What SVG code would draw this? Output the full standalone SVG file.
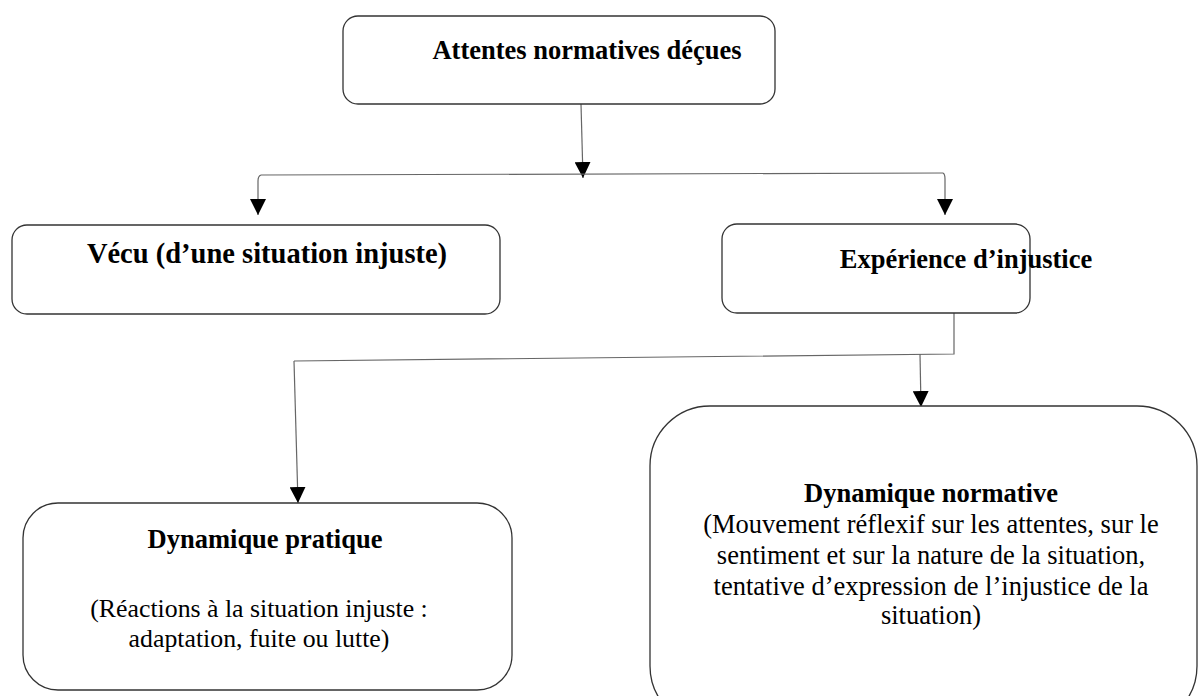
<svg xmlns="http://www.w3.org/2000/svg" width="1201" height="696" viewBox="0 0 1201 696">
<style>
.box{fill:#fff;stroke:#333;stroke-width:1.3}
.b{font-family:"Liberation Serif","Times New Roman",serif;font-weight:bold;font-size:26.5px;fill:#000}
.r{font-family:"Liberation Serif","Times New Roman",serif;font-size:26.5px;fill:#000}
.c{fill:none;stroke:#666;stroke-width:1.2}
</style>
<defs>
<marker id="ah" markerUnits="userSpaceOnUse" markerWidth="16" markerHeight="16" refX="16" refY="8" orient="auto">
<path d="M0,0 L16,8 L0,16 z" fill="#000"/>
</marker>
</defs>
<rect width="1201" height="696" fill="#fff"/>
<g id="connectors">
<path class="c" d="M581,104 L583,178" marker-end="url(#ah)"/>
<path class="c" d="M261,175 L943,173"/>
<path class="c" d="M261,175 Q258,176 258,181 L258,215" marker-end="url(#ah)"/>
<path class="c" d="M943,173 Q945,174 945,179 L945,215" marker-end="url(#ah)"/>
<path class="c" d="M954,313 L954,354 L294,361"/>
<path class="c" d="M294,361 L298,503" marker-end="url(#ah)"/>
<path class="c" d="M920,354 L921,407" marker-end="url(#ah)"/>
</g>
<g id="n1">
<rect class="box" x="343" y="16" width="432" height="88" rx="15"/>
<text class="b" x="587" y="59" text-anchor="middle">Attentes normatives déçues</text>
</g>
<g id="n2">
<rect class="box" x="12" y="225" width="488" height="89" rx="15"/>
<text class="b" x="267" y="263" text-anchor="middle" style="font-size:28.5px">Vécu (d’une situation injuste)</text>
</g>
<g id="n3">
<rect class="box" x="722" y="224" width="308" height="89" rx="15"/>
<text class="b" x="966" y="268" text-anchor="middle">Expérience d’injustice</text>
</g>
<g id="n4">
<rect class="box" x="23" y="503" width="489" height="187" rx="35"/>
<text class="b" x="265" y="548" text-anchor="middle">Dynamique pratique</text>
<text class="r" x="259" y="617" text-anchor="middle" style="font-size:25.8px">(Réactions à la situation injuste :</text>
<text class="r" x="259" y="647" text-anchor="middle" style="font-size:25.8px">adaptation, fuite ou lutte)</text>
</g>
<g id="n5">
<rect class="box" x="650" y="406" width="547" height="320" rx="60"/>
<text class="b" x="931" y="502" text-anchor="middle">Dynamique normative</text>
<text class="r" x="931" y="533" text-anchor="middle">(Mouvement réflexif sur les attentes, sur le</text>
<text class="r" x="931" y="564" text-anchor="middle">sentiment et sur la nature de la situation,</text>
<text class="r" x="931" y="595" text-anchor="middle">tentative d’expression de l’injustice de la</text>
<text class="r" x="931" y="624" text-anchor="middle">situation)</text>
</g>
</svg>
